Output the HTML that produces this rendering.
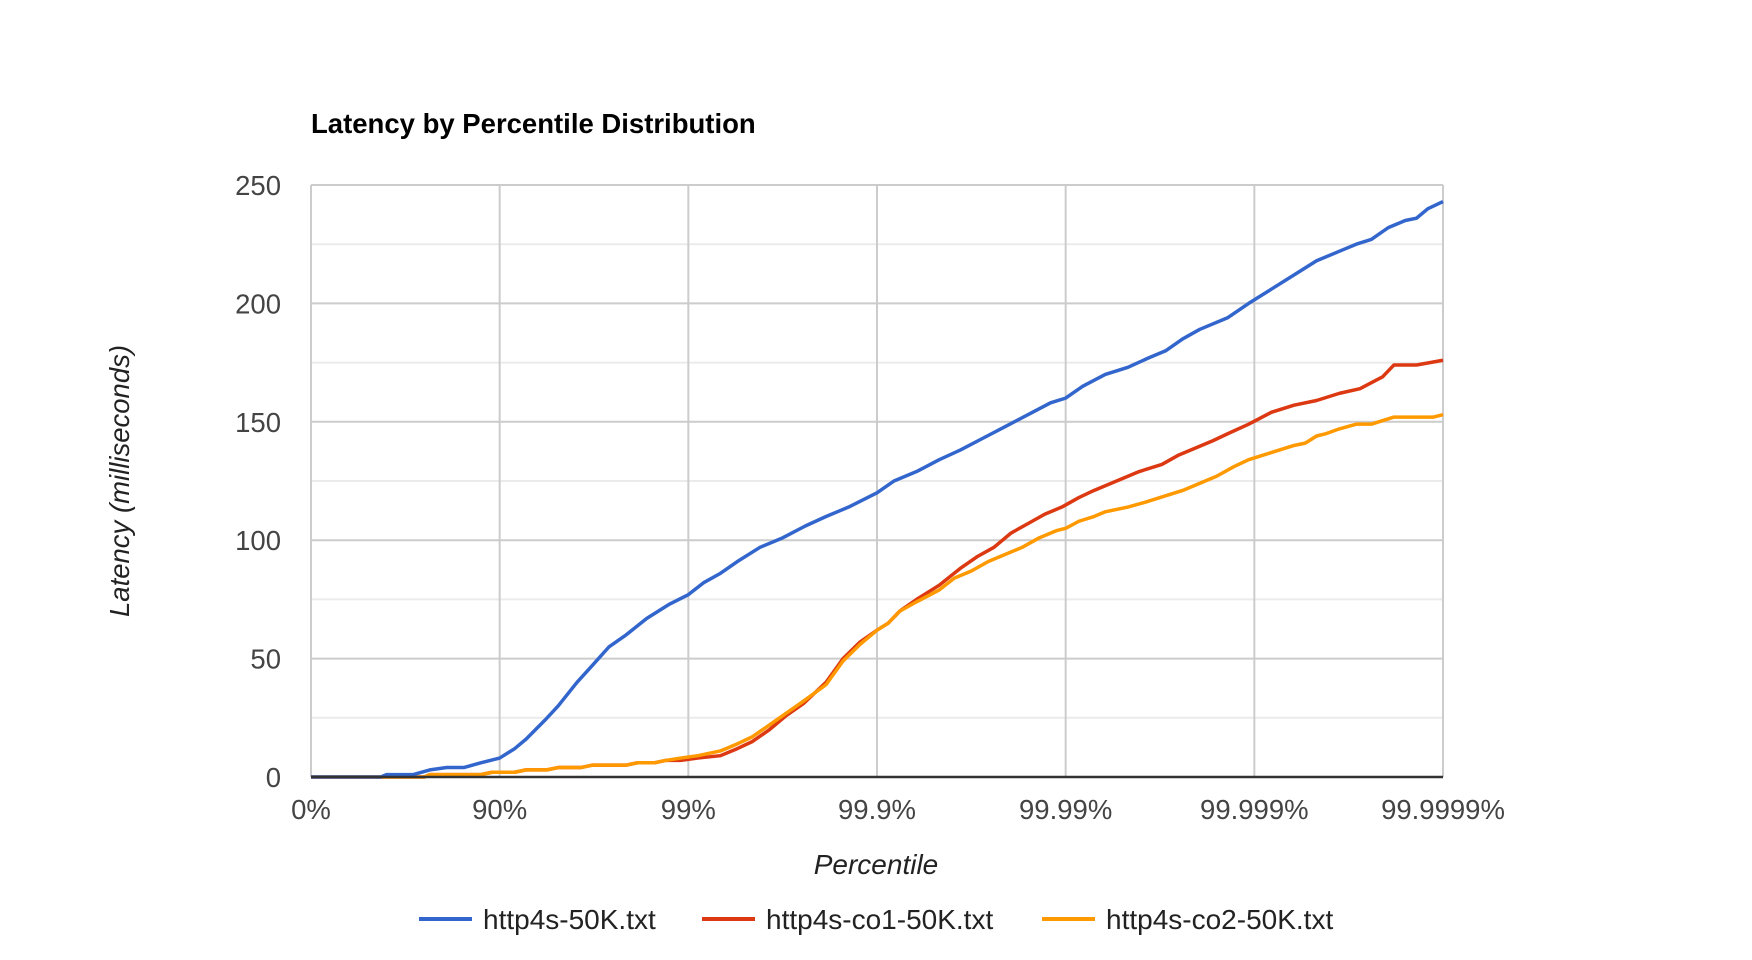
<!DOCTYPE html>
<html><head><meta charset="utf-8"><style>
body{margin:0;background:#fff;width:1752px;height:960px;overflow:hidden}
svg{display:block;font-family:"Liberation Sans",Arial,sans-serif}
</style></head><body>
<svg id="chart" width="1752" height="960">
<text x="311" y="133" font-size="27.5" font-weight="bold" fill="#000">Latency by Percentile Distribution</text>
<g id="grid"></g><g id="series"></g><g id="axes"></g>
<text x="876" y="874" font-size="28" font-style="italic" fill="#222" text-anchor="middle">Percentile</text>
<text transform="translate(129,481) rotate(-90)" font-size="27.5" font-style="italic" fill="#222" text-anchor="middle">Latency (milliseconds)</text>
<g id="legend"></g>
</svg>
<script>
const xTickLabels=["0%","90%","99%","99.9%","99.99%","99.999%","99.9999%"];
const yTicks=[0,50,100,150,200,250];
const seriesNames=["http4s-50K.txt","http4s-co1-50K.txt","http4s-co2-50K.txt"];
const seriesColors=["#3366cc","#dc3912","#ff9900"];
// x = decades of percentile (0 => 0%, 1 => 90%, 2 => 99% ...)
const blueX=[0,0.37,0.40,0.54,0.63,0.72,0.81,0.90,1.0,1.08,1.14,1.24,1.31,1.41,1.49,1.58,1.67,1.78,1.90,2.0,2.08,2.17,2.26,2.38,2.50,2.62,2.73,2.85,3.0,3.09,3.21,3.33,3.44,3.56,3.68,3.80,3.92,4.0,4.09,4.21,4.33,4.44,4.53,4.62,4.71,4.86,4.97,5.09,5.21,5.33,5.45,5.54,5.62,5.71,5.80,5.86,5.92,6.0];
const blueY=[0,0,1,1,3,4,4,6,8,12,16,24,30,40,47,55,60,67,73,77,82,86,91,97,101,106,110,114,120,125,129,134,138,143,148,153,158,160,165,170,173,177,180,185,189,194,200,206,212,218,222,225,227,232,235,236,240,243];
const redX=[0,0.60,0.63,0.90,0.96,1.08,1.14,1.25,1.31,1.43,1.49,1.67,1.73,1.82,1.88,1.96,2.05,2.17,2.26,2.34,2.43,2.52,2.61,2.73,2.82,2.91,3.0,3.06,3.12,3.21,3.33,3.44,3.53,3.62,3.71,3.80,3.89,3.98,4.07,4.15,4.27,4.39,4.51,4.60,4.69,4.78,4.86,4.97,5.09,5.21,5.33,5.45,5.56,5.68,5.74,5.86,6.0];
const redY=[0,0,1,1,2,2,3,3,4,4,5,5,6,6,7,7,8,9,12,15,20,26,31,40,50,57,62,65,70,75,81,88,93,97,103,107,111,114,118,121,125,129,132,136,139,142,145,149,154,157,159,162,164,169,174,174,176];
const orangeX=[0,0.60,0.63,0.90,0.96,1.08,1.14,1.25,1.31,1.43,1.49,1.67,1.73,1.82,1.88,1.96,2.05,2.17,2.26,2.34,2.43,2.52,2.61,2.73,2.82,2.91,3.0,3.06,3.12,3.21,3.33,3.41,3.50,3.59,3.68,3.77,3.86,3.95,4.0,4.07,4.15,4.21,4.33,4.42,4.54,4.62,4.71,4.80,4.89,4.97,5.09,5.21,5.27,5.33,5.38,5.45,5.54,5.62,5.74,5.86,5.95,6.0];
const orangeY=[0,0,1,1,2,2,3,3,4,4,5,5,6,6,7,8,9,11,14,17,22,27,32,39,49,56,62,65,70,74,79,84,87,91,94,97,101,104,105,108,110,112,114,116,119,121,124,127,131,134,137,140,141,144,145,147,149,149,152,152,152,153];
const L=311,R=1443,T=185,B=777,YMAX=250,XMAX=6;
const sx=v=>L+(R-L)*v/XMAX, sy=v=>B-(B-T)*v/YMAX;
const NS="http://www.w3.org/2000/svg";
function mk(tag,attrs,parent){const e=document.createElementNS(NS,tag);for(const k in attrs)e.setAttribute(k,attrs[k]);parent.appendChild(e);return e;}
const grid=document.getElementById('grid'),axes=document.getElementById('axes'),ser=document.getElementById('series'),leg=document.getElementById('legend');
for(let v=25;v<=YMAX;v+=25){const major=v%50===0;
 const ln=mk('line',{x1:L,x2:R,y1:sy(v),y2:sy(v),stroke:major?'#ccc':'#ebebeb','stroke-width':2},grid);
 
 }
xTickLabels.forEach((lab,i)=>{
 const ln=mk('line',{x1:sx(i),x2:sx(i),y1:T,y2:B,stroke:'#ccc','stroke-width':2},grid);
 
 
 const t=mk('text',{x:sx(i),y:B+42,'font-size':27.5,fill:'#444','text-anchor':'middle'},axes);t.textContent=lab;
 
 });
yTicks.forEach(v=>{const t=mk('text',{x:281,y:sy(v)+10,'font-size':27.5,fill:'#444','text-anchor':'end'},axes);t.textContent=v;
 
 });
const base=mk('line',{x1:L,x2:R,y1:B,y2:B,stroke:'#333','stroke-width':2.5},axes);


const data=[[blueX,blueY],[redX,redY],[orangeX,orangeY]];
[1,2,0].forEach(i=>{const [xs,ys]=data[i];
 const p=mk('polyline',{points:xs.map((x,j)=>sx(x)+','+sy(ys[j])).join(' '),fill:'none',stroke:seriesColors[i],'stroke-width':3.5,'stroke-linejoin':'round'},ser);
 
 });
const legX=[419,702,1042];
seriesNames.forEach((n,i)=>{
 const g=mk('g',{},leg);
 
 
 mk('line',{x1:legX[i],x2:legX[i]+53,y1:919,y2:919,stroke:seriesColors[i],'stroke-width':4},g);
 const t=mk('text',{x:legX[i]+64,y:929,'font-size':28,fill:'#222'},g);t.textContent=n;});
</script>
</body></html>
